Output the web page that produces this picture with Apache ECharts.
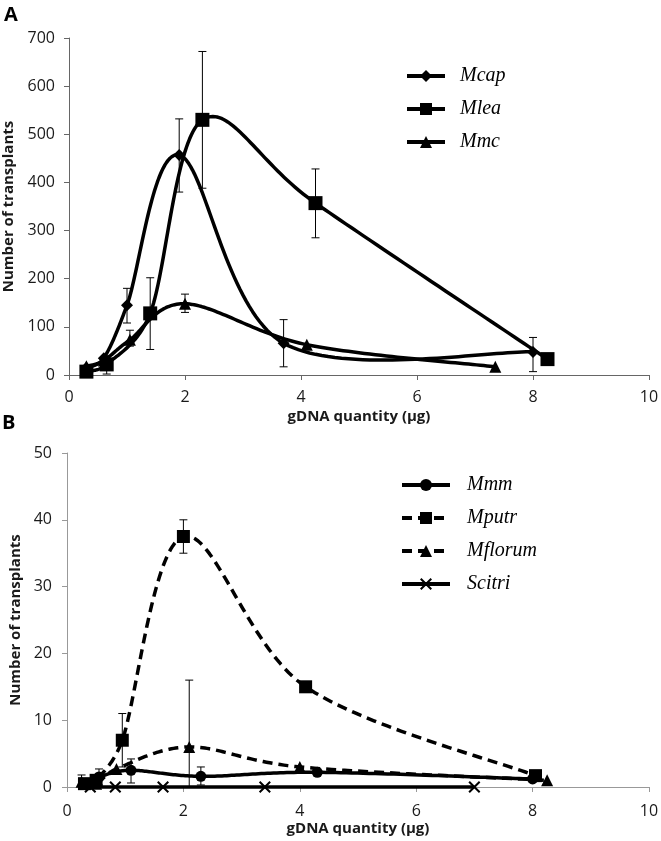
<!DOCTYPE html>
<html><head><meta charset="utf-8">
<script src="https://cdn.jsdelivr.net/npm/echarts@6/dist/echarts.min.js"></script>
<style>html,body{margin:0;padding:0;background:#fff}#c{width:661px;height:841px}</style>
</head><body><div id="c"></div>
<script>
// ---------- Panel A data ----------
const xMcap = [0.3, 0.6, 1.0, 1.9, 3.7, 8.0];
const yMcap = [15, 35, 145, 457, 66, 48];
const loMcap = [null, null, 108, 380, 17, 7];
const hiMcap = [null, null, 180, 532, 115, 78];

const xMlea = [0.3, 0.65, 1.4, 2.3, 4.25, 8.25];
const yMlea = [7, 22, 128, 530, 357, 33];
const loMlea = [null, 2, 53, 388, 285, null];
const hiMlea = [null, 40, 202, 672, 428, null];

const xMmc = [0.3, 0.6, 1.05, 2.0, 4.1, 7.35];
const yMmc = [18, 30, 73, 148, 63, 17];
const loMmc = [null, null, 60, 130, null, null];
const hiMmc = [null, null, 93, 168, null, null];

// ---------- Panel B data ----------
const xMmm = [0.3, 0.55, 1.1, 2.3, 4.3, 8.0];
const yMmm = [0.5, 1.5, 2.5, 1.6, 2.2, 1.2];
const loMmm = [null, 0.3, 0.6, 0.3, null, null];
const hiMmm = [null, 2.7, 4.2, 3.0, null, null];

const xMputr = [0.3, 0.5, 0.95, 2.0, 4.1, 8.05];
const yMputr = [0.5, 1.0, 7.0, 37.5, 15.0, 1.7];
const loMputr = [null, null, 3.0, 35.0, null, null];
const hiMputr = [null, null, 11.0, 40.0, null, null];

const xMflorum = [0.25, 0.5, 0.85, 2.1, 4.0, 8.25];
const yMflorum = [0.8, 0.5, 2.7, 6.0, 3.0, 1.0];
const loMflorum = [0.2, null, null, 0, null, null];
const hiMflorum = [1.8, null, null, 16.0, 7.8, 2.0];

const xScitri = [0.4, 0.83, 1.65, 3.4, 7.0];
const yScitri = [0, 0, 0, 0, 0];

// ---------- helpers ----------
function pts(xs, ys){ return xs.map((x,i)=>[x, ys[i]]); }
function errs(xs, lo, hi){
  const out = [];
  xs.forEach((x,i)=>{ if(lo[i]!=null && hi[i]!=null) out.push([x, lo[i], hi[i]]); });
  return out;
}
function errRender(params, api){
  const x = api.value(0), lo = api.value(1), hi = api.value(2);
  const a = api.coord([x, hi]), b = api.coord([x, lo]);
  const w = 4;
  const st = {stroke:'#000', lineWidth:1};
  return {type:'group', children:[
    {type:'line', shape:{x1:a[0],y1:a[1],x2:b[0],y2:b[1]}, style:st},
    {type:'line', shape:{x1:a[0]-w,y1:a[1],x2:a[0]+w,y2:a[1]}, style:st},
    {type:'line', shape:{x1:b[0]-w,y1:b[1],x2:b[0]+w,y2:b[1]}, style:st}
  ]};
}
const crossPath = 'path://M0,1.2L1.2,0L5,3.8L8.8,0L10,1.2L6.2,5L10,8.8L8.8,10L5,6.2L1.2,10L0,8.8L3.8,5Z';

// Excel-like smoothed curve (Catmull-Rom style Bezier, computed in pixel space)
function smoothCurve(data, gi, dashed){
  return {
    type:'custom', xAxisIndex:gi, yAxisIndex:gi, data:[[data[0][0], data[0][1]]], z:2, silent:true, animation:false,
    renderItem:function(params, api){
      const P = data.map(d => api.coord(d));
      const n = P.length, out = [];
      const dist = (a,b)=>Math.hypot(a[0]-b[0], a[1]-b[1]);
      for(let i=0;i<n-1;i++){
        const p0 = P[Math.max(0,i-1)], p1 = P[i], p2 = P[i+1], p3 = P[Math.min(n-1,i+2)];
        const d12 = dist(p1,p2), d02 = dist(p0,p2), d13 = dist(p1,p3);
        const f0 = d02 > 0 ? Math.min(1/6, d12/(2*d02)) : 0;
        const f3 = d13 > 0 ? Math.min(1/6, d12/(2*d13)) : 0;
        const c1 = [p1[0] + (p2[0]-p0[0])*f0, p1[1] + (p2[1]-p0[1])*f0];
        const c2 = [p2[0] - (p3[0]-p1[0])*f3, p2[1] - (p3[1]-p1[1])*f3];
        const steps = 40;
        for(let s=(i===0?0:1); s<=steps; s++){
          const t = s/steps, u = 1-t;
          out.push([
            u*u*u*p1[0] + 3*u*u*t*c1[0] + 3*u*t*t*c2[0] + t*t*t*p2[0],
            u*u*u*p1[1] + 3*u*u*t*c1[1] + 3*u*t*t*c2[1] + t*t*t*p2[1]
          ]);
        }
      }
      return {type:'polyline', shape:{points:out},
        style:{stroke:'#000', lineWidth:3.5, fill:null, lineDash: dashed ? [10,6] : null, lineJoin:'round'}};
    }
  };
}

function markerSeries(name, data, gi, symbol, size, dashed){
  return {
    name, type:'line', xAxisIndex:gi, yAxisIndex:gi, data,
    symbol, symbolSize:size, showSymbol:true,
    lineStyle:{color:'#000', width:3.5, type: dashed ? [10,6] : 'solid', opacity:0},
    itemStyle:{color:'#000'}, z:3, animation:false
  };
}
function errSeries(data, gi){
  return {type:'custom', xAxisIndex:gi, yAxisIndex:gi, data, renderItem:errRender, z:4, animation:false, silent:true};
}

const tickFont = {fontFamily:'Open Sans', fontSize:16, color:'#1a1a1a'};
const titleFont = {fontFamily:'Open Sans', fontSize:15, fontWeight:'bold', color:'#1a1a1a'};

function xAxisCfg(gi, color, margin){
  return {type:'value', gridIndex:gi, min:0, max:10, interval:2,
    name:'gDNA quantity (µg)', nameLocation:'middle', nameGap:34, nameTextStyle:titleFont,
    axisLine:{show:true, lineStyle:{color, width:1}}, axisTick:{show:true, length:5, lineStyle:{color}},
    axisLabel:Object.assign({margin}, tickFont), splitLine:{show:false}};
}
function yAxisCfg(gi, max, interval, color, margin, gap){
  return {type:'value', gridIndex:gi, min:0, max, interval,
    name:'Number of transplants', nameLocation:'middle', nameGap:gap, nameTextStyle:titleFont,
    axisLine:{show:true, lineStyle:{color, width:1}}, axisTick:{show:true, length:5, lineStyle:{color}},
    axisLabel:Object.assign({margin}, tickFont), splitLine:{show:false}};
}

function legendText(p){ return {fontFamily:'Liberation Serif', fontStyle:'italic', fontSize:20, color:'#000', padding:[0,0,0,p]}; }

const chart = echarts.init(document.getElementById('c'), null, {renderer:'canvas'});
chart.setOption({
  animation:false,
  backgroundColor:'#fff',
  grid:[
    {left:69, top:38, width:580, height:337, containLabel:false, outerBoundsMode:'none'},
    {left:67, top:453, width:582, height:334, containLabel:false, outerBoundsMode:'none'}
  ],
  xAxis:[xAxisCfg(0,'#666',14), xAxisCfg(1,'#999',16)],
  yAxis:[yAxisCfg(0,700,100,'#666',14,43), yAxisCfg(1,50,10,'#999',15,40)],
  legend:[
    {data:['Mcap','Mlea','Mmc'], orient:'vertical', left:400, top:61, itemWidth:38, itemHeight:15, itemGap:13,
     textStyle:legendText(10), lineStyle:{width:4, opacity:1}, selectedMode:false},
    {data:['Mmm','Mputr','Mflorum','Scitri'], orient:'vertical', left:395, top:470, itemWidth:48, itemHeight:15, itemGap:13,
     textStyle:legendText(12), lineStyle:{width:4, opacity:1}, selectedMode:false}
  ],
  graphic:[
    {type:'text', left:4, top:5, style:{text:'A', font:'bold 20px "Open Sans"', fill:'#000'}},
    {type:'text', left:2, top:413, style:{text:'B', font:'bold 20px "Open Sans"', fill:'#000'}}
  ],
  series:[
    smoothCurve(pts(xMcap, yMcap), 0, false),
    smoothCurve(pts(xMlea, yMlea), 0, false),
    smoothCurve(pts(xMmc, yMmc), 0, false),
    errSeries(errs(xMcap, loMcap, hiMcap), 0),
    errSeries(errs(xMlea, loMlea, hiMlea), 0),
    errSeries(errs(xMmc, loMmc, hiMmc), 0),
    markerSeries('Mcap', pts(xMcap, yMcap), 0, 'diamond', 12, false),
    markerSeries('Mlea', pts(xMlea, yMlea), 0, 'rect', 14, false),
    markerSeries('Mmc', pts(xMmc, yMmc), 0, 'triangle', 12, false),
    smoothCurve(pts(xMmm, yMmm), 1, false),
    smoothCurve(pts(xMputr, yMputr), 1, true),
    smoothCurve(pts(xMflorum, yMflorum), 1, true),
    smoothCurve(pts(xScitri, yScitri), 1, false),
    errSeries(errs(xMmm, loMmm, hiMmm), 1),
    errSeries(errs(xMputr, loMputr, hiMputr), 1),
    errSeries(errs(xMflorum, loMflorum, hiMflorum), 1),
    markerSeries('Mmm', pts(xMmm, yMmm), 1, 'circle', 11, false),
    markerSeries('Mputr', pts(xMputr, yMputr), 1, 'rect', 13, true),
    markerSeries('Mflorum', pts(xMflorum, yMflorum), 1, 'triangle', 12, true),
    markerSeries('Scitri', pts(xScitri, yScitri), 1, crossPath, 12, false)
  ]
});
</script>
</body></html>
